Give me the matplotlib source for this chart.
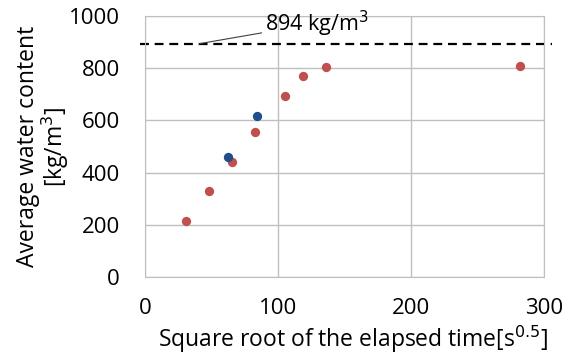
import matplotlib.pyplot as plt

# measured series (square root of elapsed time, water content)
red_x = [31, 48, 65, 83, 105, 119, 136, 282]
red_y = [216, 331, 440, 555, 693, 770, 806, 809]
blue_x = [62, 84]
blue_y = [461, 616]
saturation = 894

x_ticks = [0, 100, 200, 300]
y_ticks = [0, 200, 400, 600, 800, 1000]

plt.rcParams['font.family'] = ['Open Sans', 'DejaVu Sans']

fig = plt.figure(figsize=(5.77, 3.60), dpi=100)
ax = fig.add_axes([0.2513, 0.2306, 0.692, 0.725])

ax.scatter(red_x, red_y, s=45, color='#c0504d', zorder=3, linewidths=0)
ax.scatter(blue_x, blue_y, s=45, color='#1f4e89', zorder=4, linewidths=0)

ax.plot([-4, 306], [saturation, saturation], color='black', lw=1.6,
        ls=(0, (4, 2.6)), clip_on=False, zorder=2)
ax.annotate('894 kg/m$^3$', xy=(41, saturation), xytext=(90, 970),
            fontsize=15.5, va='center', ha='left',
            arrowprops=dict(arrowstyle='-', color='#404040', lw=0.8,
                            shrinkA=0, shrinkB=0, relpos=(-0.03, 0.2)))

ax.set_xlim(0, 300)
ax.set_ylim(0, 1000)
ax.set_xticks(x_ticks)
ax.set_yticks(y_ticks)
ax.tick_params(length=0, labelsize=16)
ax.tick_params(axis='x', pad=15)
ax.tick_params(axis='y', pad=18)
ax.grid(True, color='#bfbfbf', lw=1)
ax.set_axisbelow(True)
for s in ax.spines.values():
    s.set_color('#bfbfbf')

ax.set_xlabel('Square root of the elapsed time[s$^{0.5}$]', fontsize=16.5)
ax.set_ylabel('Average water content\n[kg/m$^3$]', fontsize=16.5, linespacing=1.0)
ax.xaxis.set_label_coords(0.52, -0.18)
ax.yaxis.set_label_coords(-0.185, 0.5)

fig.savefig('out.png', dpi=100)
